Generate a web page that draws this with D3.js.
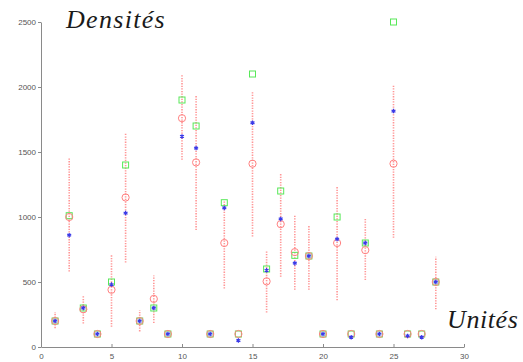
<!DOCTYPE html>
<html>
<head>
<meta charset="utf-8">
<script src="https://cdn.jsdelivr.net/npm/d3@7"></script>
<style>
  body { margin: 0; background: #fff; }
  .axis path, .axis line { stroke: #8a8a8a; }
  .axis text { font-family: "Liberation Sans", Arial, sans-serif; font-size: 8px; fill: #555; }
  .title { font-family: "Liberation Serif", "Times New Roman", serif; font-style: italic; font-size: 26px; fill: #1a1a1a; }
</style>
</head>
<body>
<div id="chart"></div>
<script>
//** data
const units = [1, 2, 3, 4, 5, 6, 7, 8, 9, 10, 11, 12, 13, 14, 15, 16, 17, 18, 19, 20, 21, 22, 23, 24, 25, 26, 27, 28];
const greenValues = [200, 1010, 300, 100, 500, 1400, 200, 300, 100, 1900, 1700, 100, 1110, 100, 2100, 600, 1200, 705, 700, 100, 1000, 100, 800, 100, 2500, 100, 100, 500];
const blueValues = [200, 860, 300, 100, 480, 1030, 200, 300, 100, 1620, 1530, 100, 1070, 50, 1725, 590, 985, 645, 700, 100, 830, 75, 800, 100, 1815, 85, 75, 500];
const redMeans = [200, 1000, 290, 100, 440, 1150, 200, 370, 100, 1760, 1420, 100, 800, 100, 1410, 505, 945, 730, 700, 100, 800, 100, 745, 100, 1410, 100, 100, 500];
const errLow = [145, 580, 180, null, 155, 650, 120, 185, null, 1440, 900, null, 450, null, 850, 265, 540, 440, 440, null, 360, null, 515, null, 840, null, null, 290];
const errHigh = [270, 1460, 400, null, 710, 1650, 285, 550, null, 2090, 1930, null, 1130, null, 1965, 740, 1340, 1015, 940, null, 1235, null, 990, null, 2010, null, null, 695];
const xTicks = [0, 5, 10, 15, 20, 25, 30];
const yTicks = [0, 500, 1000, 1500, 2000, 2500];

const W = 523, H = 362;
const margins = {left: 41, right: 59, top: 22, bottom: 15};

const svg = d3.select('#chart').append('svg')
  .attr('width', W)
  .attr('height', H);

//** scales
const x = d3.scaleLinear().domain([0, 30]).range([margins.left, W - margins.right]);
const y = d3.scaleLinear().domain([0, 2500]).range([H - margins.bottom, margins.top]);

//** axes
svg.append('g')
  .attr('class', 'axis')
  .attr('transform', 'translate(0,' + y(0) + ')')
  .call(d3.axisBottom(x).tickValues(xTicks).tickFormat(d3.format('d'))
    .tickSize(-3).tickPadding(5).tickSizeOuter(0))
  .selectAll('text').attr('dy', '0.9em');

svg.append('g')
  .attr('class', 'axis')
  .attr('transform', 'translate(' + x(0) + ',0)')
  .call(d3.axisLeft(y).tickValues(yTicks).tickFormat(d3.format('d'))
    .tickSize(3).tickPadding(2).tickSizeOuter(0));

//** rows for the marks
const rows = units.map((u, i) => ({
  u: u,
  g: greenValues[i],
  b: blueValues[i],
  r: redMeans[i],
  lo: errLow[i],
  hi: errHigh[i]
}));

//** error bars, red dotted
svg.append('g').selectAll('line')
  .data(rows.filter(d => d.lo !== null))
  .enter().append('line')
  .attr('x1', d => x(d.u))
  .attr('x2', d => x(d.u))
  .attr('y1', d => y(d.lo))
  .attr('y2', d => y(d.hi))
  .attr('stroke', '#ff6a6a')
  .attr('stroke-width', 1.6)
  .attr('stroke-dasharray', '1.3,1.3')
  .attr('opacity', 0.7);

//** green squares
svg.append('g').selectAll('rect')
  .data(rows)
  .enter().append('rect')
  .attr('x', d => x(d.u) - 3)
  .attr('y', d => y(d.g) - 3)
  .attr('width', 6)
  .attr('height', 6)
  .attr('fill', 'none')
  .attr('stroke', '#58e858')
  .attr('stroke-width', 1);

//** red circles
svg.append('g').selectAll('circle')
  .data(rows)
  .enter().append('circle')
  .attr('cx', d => x(d.u))
  .attr('cy', d => y(d.r))
  .attr('r', 3.6)
  .attr('fill', 'none')
  .attr('stroke', '#ff8080')
  .attr('stroke-width', 1);

//** blue stars
const starType = d3.symbolAsterisk || d3.symbolCross;
svg.append('g').selectAll('path')
  .data(rows)
  .enter().append('path')
  .attr('transform', d => 'translate(' + x(d.u) + ',' + y(d.b) + ')')
  .attr('d', d3.symbol().type(starType).size(14))
  .attr('fill', 'none')
  .attr('stroke', '#3a3ae8')
  .attr('stroke-width', 1.2);

//** axis titles
svg.append('text')
  .attr('class', 'title')
  .attr('x', 66)
  .attr('y', 28)
  .attr('letter-spacing', 1.3)
  .text('Densités');

svg.append('text')
  .attr('class', 'title')
  .attr('x', 447)
  .attr('y', 328)
  .attr('letter-spacing', 0.6)
  .text('Unités');
</script>
</body>
</html>
